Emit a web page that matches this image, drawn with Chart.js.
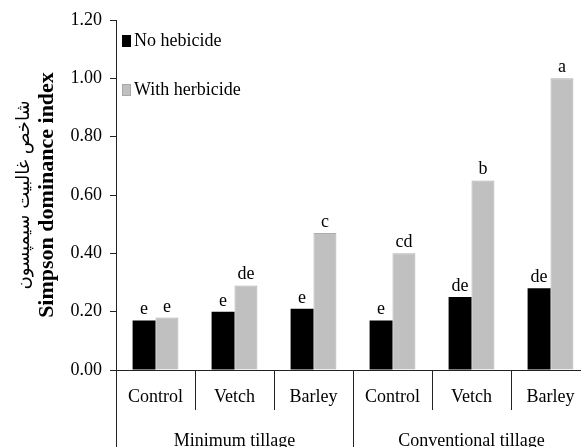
<!DOCTYPE html>
<html lang="en">
<head>
  <meta charset="UTF-8" />
  <title>Simpson dominance index</title>
  <script src="https://cdn.jsdelivr.net/npm/chart.js"></script>
  <style>
    html, body {
      margin: 0;
      padding: 0;
      background: #fff;
      overflow: hidden;
    }
    #wrap {
      width: 591px;
      height: 447px;
    }
  </style>
</head>
<body>
  <div id="wrap">
    <canvas id="chart" width="591" height="447"></canvas>
  </div>

  <script>
    // data
    const categories = ['Control', 'Vetch', 'Barley', 'Control', 'Vetch', 'Barley'];
    const groups = ['Minimum tillage', 'Conventional tillage'];
    const seriesNames = ['No hebicide', 'With herbicide'];
    const noHerbicide = [0.17, 0.20, 0.21, 0.17, 0.25, 0.28];
    const withHerbicide = [0.18, 0.29, 0.47, 0.40, 0.65, 1.00];
    const lettersNo = ['e', 'e', 'e', 'e', 'de', 'de'];
    const lettersWith = ['e', 'de', 'c', 'cd', 'b', 'a'];
    const yTitle = 'Simpson dominance index';
    const yTitleFa = 'شاخص غالبیت سیمپسون';

    const serif = "'Liberation Serif', 'Times New Roman', serif";

    // extra drawing: letters, legend, titles, lines under the axis
    const extras = {
      id: 'extras',
      afterDraw(chart) {
        const ctx = chart.ctx;
        const area = chart.chartArea;
        const x = chart.scales.x;
        ctx.save();

        // significance letters
        ctx.fillStyle = '#000';
        ctx.font = '18px ' + serif;
        ctx.textAlign = 'center';
        ctx.textBaseline = 'alphabetic';
        [lettersNo, lettersWith].forEach((letters, d) => {
          const meta = chart.getDatasetMeta(d);
          meta.data.forEach((bar, i) => {
            ctx.fillText(letters[i], bar.x, bar.y - 6);
          });
        });

        // lines below the x axis
        const half = (x.getPixelForValue(1) - x.getPixelForValue(0)) / 2;
        ctx.strokeStyle = '#222';
        ctx.lineWidth = 1;
        ctx.beginPath();
        ctx.moveTo(area.left + 0.5, area.bottom);
        ctx.lineTo(area.left + 0.5, chart.height);
        for (let i = 1; i < categories.length; i++) {
          const bx = Math.round(x.getPixelForValue(i) - half) + 0.5;
          ctx.moveTo(bx, area.bottom);
          ctx.lineTo(bx, i === 3 ? chart.height : area.bottom + 40);
        }
        ctx.stroke();

        // group labels
        ctx.font = '18px ' + serif;
        ctx.textBaseline = 'alphabetic';
        const g1 = (x.getPixelForValue(0) + x.getPixelForValue(2)) / 2;
        const g2 = (x.getPixelForValue(3) + x.getPixelForValue(5)) / 2;
        ctx.fillText(groups[0], g1, 446);
        ctx.fillText(groups[1], g2, 446);

        // legend
        const colors = ['#000000', '#c0c0c0'];
        const ys = [41, 90];
        ctx.textAlign = 'left';
        ctx.textBaseline = 'middle';
        ctx.font = '18px ' + serif;
        seriesNames.forEach((name, i) => {
          ctx.fillStyle = colors[i];
          ctx.fillRect(122, ys[i] - 6, 9, 12);
          if (i === 1) {
            ctx.strokeStyle = '#a8a8a8';
            ctx.strokeRect(122.5, ys[i] - 5.5, 8, 11);
          }
          ctx.fillStyle = '#000';
          ctx.fillText(name, 134, ys[i]);
        });

        // y axis titles
        const cy = (area.top + area.bottom) / 2;
        ctx.translate(47, cy);
        ctx.rotate(-Math.PI / 2);
        ctx.textAlign = 'center';
        ctx.font = 'bold 22px ' + serif;
        ctx.fillText(yTitle, 0, 0);
        ctx.font = "18px 'DejaVu Sans', sans-serif";
        ctx.fillText(yTitleFa, 0, -23);

        ctx.restore();
      }
    };

    new Chart(document.getElementById('chart'), {
      type: 'bar',
      data: {
        labels: categories,
        datasets: [
          {
            label: seriesNames[0],
            data: noHerbicide,
            backgroundColor: '#000000',
            borderWidth: 0,
            categoryPercentage: 0.58,
            barPercentage: 1.0
          },
          {
            label: seriesNames[1],
            data: withHerbicide,
            backgroundColor: '#c0c0c0',
            borderColor: '#adadad',
            borderWidth: 1,
            categoryPercentage: 0.58,
            barPercentage: 1.0
          }
        ]
      },
      options: {
        responsive: false,
        animation: false,
        layout: { padding: { top: 20, right: 1, left: 0, bottom: 0 } },
        plugins: {
          legend: { display: false },
          tooltip: { enabled: false },
          title: { display: false }
        },
        scales: {
          x: {
            afterFit: s => { s.height = 77; },
            grid: { display: false },
            border: { display: true, color: '#222', width: 1 },
            ticks: {
              color: '#000',
              font: { family: serif, size: 18 },
              padding: 8,
              maxRotation: 0,
              autoSkip: false
            }
          },
          y: {
            min: 0,
            max: 1.2,
            afterFit: s => { s.width = 116; },
            grid: {
              drawOnChartArea: false,
              drawTicks: true,
              tickLength: 6,
              color: '#222'
            },
            border: { display: true, color: '#222', width: 1 },
            ticks: {
              stepSize: 0.2,
              color: '#000',
              padding: 8,
              font: { family: serif, size: 18 },
              callback: v => v.toFixed(2)
            }
          }
        }
      },
      plugins: [extras]
    });
  </script>
</body>
</html>
